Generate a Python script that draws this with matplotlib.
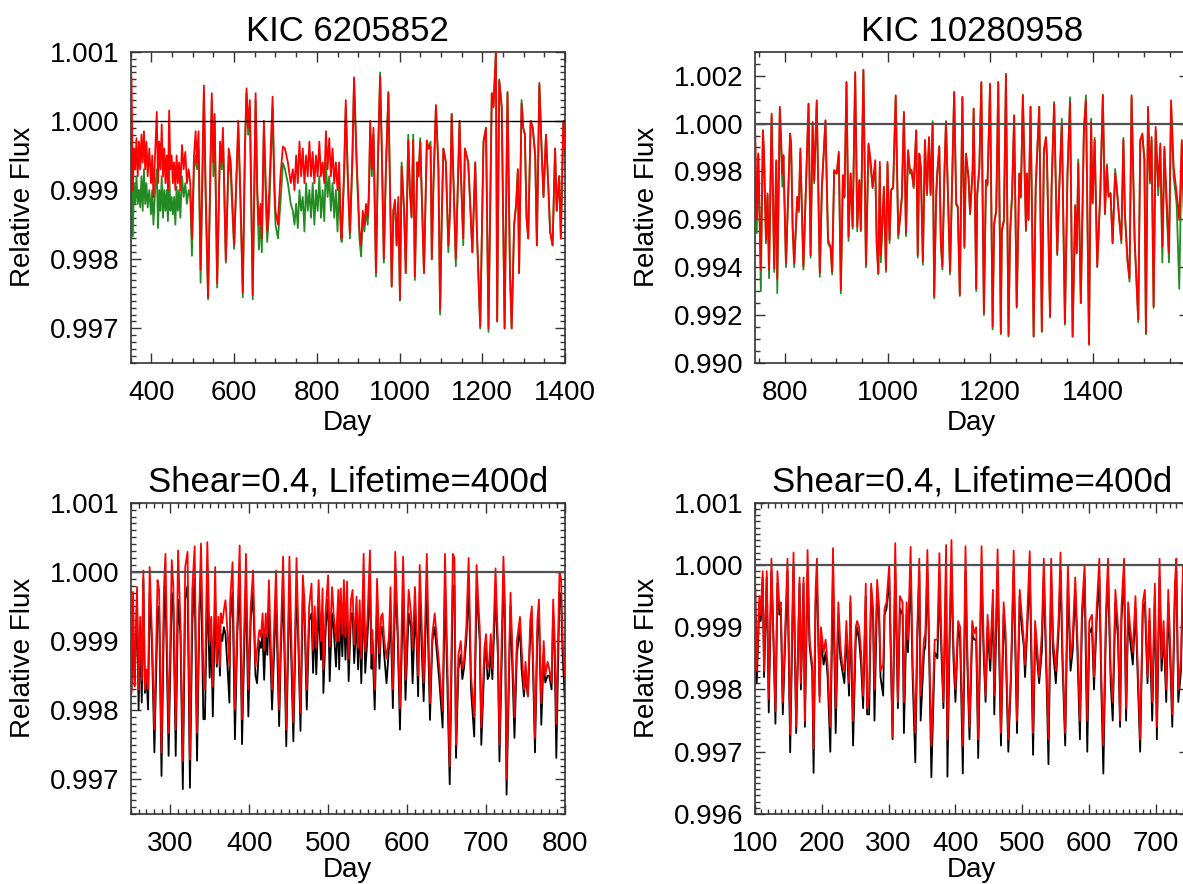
import matplotlib
matplotlib.use("Agg")
import matplotlib.pyplot as plt
from matplotlib.ticker import MultipleLocator, FormatStrFormatter

plt.rcParams['font.family'] = ['Liberation Sans', 'DejaVu Sans']

# ---------------- dados ----------------
# KIC 6205852 (observado: vermelho / verde)
dias_a = [350, 352, 355, 358, 361, 364, 367, 370, 373, 376, 379, 382, 385, 388, 391, 395, 399, 402, 405, 409,
          413, 416, 419, 422, 425, 428, 431, 434, 437, 440, 443, 446, 449, 452, 455, 458, 461, 464, 467, 470,
          474, 478, 482, 486, 490, 494, 498, 503, 507, 510, 514, 519, 527, 531, 537, 546, 550, 553, 559, 566,
          570, 573, 580, 587, 592, 600, 610, 615, 621, 626, 630, 634, 638, 645, 652, 656, 660, 664, 667, 672,
          677, 680, 685, 693, 697, 700, 706, 712, 718, 723, 730, 737, 742, 746, 750, 754, 758, 762, 766, 770,
          774, 778, 782, 786, 790, 794, 798, 802, 806, 810, 814, 818, 822, 826, 830, 834, 838, 842, 846, 850,
          854, 858, 860, 866, 870, 875, 880, 886, 890, 896, 903, 907, 911, 915, 919, 923, 926, 929, 933, 937,
          943, 948, 953, 957, 962, 967, 973, 977, 981, 985, 989, 993, 997, 1001, 1005, 1011, 1015, 1021, 1025, 1029,
          1033, 1037, 1043, 1046, 1050, 1059, 1066, 1070, 1075, 1078, 1082, 1088, 1094, 1098, 1102, 1106, 1112, 1118, 1122, 1126,
          1130, 1136, 1145, 1148, 1154, 1158, 1166, 1170, 1176, 1183, 1187, 1195, 1203, 1209, 1215, 1223, 1227, 1233, 1236, 1241,
          1247, 1254, 1261, 1267, 1271, 1277, 1282, 1286, 1289, 1295, 1299, 1303, 1307, 1311, 1317, 1322, 1328, 1332, 1338, 1344,
          1348, 1354, 1360, 1364, 1370, 1376, 1380, 1386, 1390, 1396, 1400]
vermelho_a = [1.0008, 1.0006, 0.9990, 0.9996, 0.9993, 0.99975, 0.9992, 0.9997, 0.9993, 0.9998, 0.9994, 0.99985, 0.9993, 0.9997, 0.9992, 0.9996, 0.9991, 0.9995, 0.9989, 0.9995,
              1.00013, 0.9991, 0.9997, 0.9993, 0.99995, 0.9992, 0.9996, 0.9991, 0.9995, 0.9990, 1.00015, 0.9993, 0.9995, 0.9991, 0.9994, 0.9990, 0.9995, 0.9991, 0.9994, 0.9990,
              0.99965, 0.9993, 0.99955, 0.9991, 0.9993, 0.9991, 0.9983, 0.9995, 0.99985, 0.9994, 0.99985, 0.99785, 1.00051, 0.9991, 0.99745, 1.0004, 0.9994, 1.0001, 0.99765, 0.9997,
              0.9994, 0.9999, 0.99798, 0.9996, 0.9994, 0.9982, 1.0000, 0.9990, 0.99752, 0.9996, 1.00047, 0.9999, 1.0003, 0.99748, 1.0004, 0.9990, 0.9985, 0.9988, 0.9983, 1.0000,
              0.9990, 0.9984, 0.9990, 1.00035, 0.9992, 0.9987, 0.9985, 0.9992, 0.99963, 0.9996, 0.9994, 0.9991, 0.9993, 0.9990, 0.9995, 0.9991, 0.9997, 0.9992, 0.9996, 0.9991,
              0.9995, 0.9992, 0.9997, 0.9992, 0.99955, 0.9991, 0.9995, 0.9992, 0.9997, 0.9992, 0.9994, 0.9991, 0.99985, 0.9993, 0.99975, 0.9992, 0.9996, 0.9991, 0.9994, 0.9990,
              0.9994, 0.9985, 0.9983, 0.9993, 1.0003, 0.9992, 0.99838, 0.9995, 1.00063, 0.99948, 0.99843, 0.9982, 0.9987, 0.9985, 0.9988, 0.9986, 0.9990, 1.0000, 0.9993, 0.9999,
              0.9978, 0.9995, 1.00065, 0.9996, 0.9980, 0.9993, 1.0004, 0.9990, 0.99761, 0.9987, 0.99886, 0.9982, 0.9989, 0.99742, 0.99934, 0.99871, 0.9978, 0.99972, 0.9990, 0.99862,
              0.99972, 0.99775, 0.9994, 0.9992, 0.9997, 0.9978, 0.99972, 0.9996, 0.99963, 0.9980, 0.9991, 1.00023, 0.9993, 0.99727, 0.9986, 0.9996, 0.9994, 0.9982, 0.9987, 1.0001,
              0.9992, 0.9980, 1.0000, 0.9993, 0.9983, 0.9996, 0.9994, 0.9989, 0.9981, 0.9994, 0.9984, 0.99703, 0.9997, 0.9999, 0.9970, 1.0004, 1.0002, 1.0010, 0.9971, 1.00058,
              1.0002, 0.9970, 1.0004, 0.9978, 0.9970, 0.9985, 0.9988, 0.9993, 0.9978, 1.00025, 0.9999, 0.9998, 0.9986, 0.9983, 1.0000, 0.9999, 0.9995, 0.9982, 1.00053, 0.9995,
              0.9989, 0.9998, 0.9990, 0.9984, 0.9982, 0.9996, 0.9987, 0.9992, 0.9983, 1.0000, 0.9996]
verde_a = [1.0002, 0.9998, 0.99833, 0.9991, 0.9988, 0.9992, 0.9988, 0.9990, 0.99875, 0.9992, 0.9987, 0.9993, 0.9988, 0.9991, 0.99875, 0.9990, 0.99865, 0.9990, 0.9985, 0.9990,
           0.9993, 0.99845, 0.9990, 0.9987, 0.9992, 0.9986, 0.9990, 0.9987, 0.9990, 0.99855, 0.9993, 0.9987, 0.9989, 0.99865, 0.9989, 0.9985, 0.99905, 0.9987, 0.9990, 0.9986,
           0.9992, 0.9989, 0.9991, 0.9988, 0.9990, 0.9989, 0.99805, 0.9993, 0.9995, 0.9993, 0.9996, 0.99766, 1.0004, 0.9989, 0.99742, 1.0003, 0.9992, 1.0000, 0.99759, 0.9996,
           0.9993, 0.9998, 0.99795, 0.9995, 0.9992, 0.99815, 0.9999, 0.9989, 0.99745, 0.9995, 1.0004, 0.9998, 1.0002, 0.99742, 1.0003, 0.9989, 0.99814, 0.9986, 0.9981, 0.9999,
           0.9988, 0.99825, 0.9987, 1.0002, 0.9990, 0.9985, 0.9983, 0.9988, 0.99939, 0.9993, 0.9991, 0.9988, 0.9987, 0.9985, 0.9988, 0.99845, 0.9990, 0.9987, 0.9989, 0.9984,
           0.9991, 0.9987, 0.9990, 0.9986, 0.9991, 0.9985, 0.9990, 0.9987, 0.9992, 0.9986, 0.9990, 0.99855, 0.9994, 0.9989, 0.9992, 0.9987, 0.9991, 0.9986, 0.9990, 0.9984,
           0.9991, 0.99835, 0.99825, 0.9992, 1.0002, 0.9991, 0.9983, 0.9994, 1.0006, 0.9994, 0.9983, 0.99804, 0.9986, 0.9984, 0.9987, 0.9985, 0.9989, 0.9999, 0.9992, 0.9998,
           0.99775, 0.9995, 1.0007, 0.9996, 0.99795, 0.9993, 1.00042, 0.9990, 0.9976, 0.9987, 0.9988, 0.9982, 0.9988, 0.9974, 0.9994, 0.9987, 0.9978, 0.9998, 0.9990, 0.9986,
           0.9998, 0.9977, 0.9994, 0.9992, 0.99975, 0.9978, 0.9997, 0.9996, 0.9997, 0.9980, 0.9991, 1.0002, 0.9993, 0.9972, 0.9986, 0.9996, 0.9994, 0.9981, 0.9987, 1.0001,
           0.9992, 0.9979, 1.0000, 0.9993, 0.9982, 0.9996, 0.9994, 0.9989, 0.9981, 0.9994, 0.9984, 0.9970, 0.9997, 0.9999, 0.99695, 1.0004, 1.0002, 1.0010, 0.9971, 1.0006,
           1.0002, 0.9970, 1.00042, 0.9978, 0.9970, 0.9985, 0.9988, 0.9993, 0.9978, 1.0003, 0.9999, 0.9998, 0.9986, 0.9983, 1.0000, 0.9999, 0.9995, 0.9982, 1.00055, 0.9995,
           0.9989, 0.9998, 0.9990, 0.9984, 0.9982, 0.9996, 0.9987, 0.9992, 0.9983, 1.0000, 0.9995]

# KIC 10280958 (observado: vermelho / verde)
dias_b = [741, 745, 748, 753, 757, 759, 763, 766, 769, 774, 779, 783, 785, 790, 795, 797, 802, 810, 812, 815,
          818, 824, 827, 830, 836, 841, 846, 850, 854, 857, 862, 868, 872, 879, 884, 889, 892, 896, 901, 905,
          909, 913, 916, 920, 924, 928, 932, 937, 941, 945, 948, 953, 958, 963, 967, 971, 976, 979, 982, 985,
          987, 993, 997, 1000, 1004, 1007, 1011, 1016, 1021, 1024, 1028, 1032, 1036, 1040, 1044, 1047, 1051, 1056, 1059, 1062,
          1065, 1069, 1073, 1077, 1081, 1084, 1088, 1091, 1095, 1097, 1101, 1104, 1107, 1111, 1114, 1117, 1122, 1127, 1130, 1134,
          1137, 1141, 1146, 1150, 1153, 1158, 1161, 1166, 1168, 1173, 1175, 1179, 1183, 1188, 1192, 1195, 1200, 1205, 1208, 1212,
          1216, 1221, 1223, 1227, 1231, 1236, 1239, 1243, 1247, 1252, 1257, 1260, 1264, 1270, 1272, 1275, 1279, 1285, 1289, 1292,
          1296, 1301, 1305, 1309, 1311, 1317, 1320, 1325, 1331, 1335, 1340, 1346, 1351, 1356, 1361, 1366, 1369, 1372, 1377, 1383,
          1387, 1393, 1397, 1400, 1404, 1409, 1415, 1420, 1424, 1428, 1431, 1435, 1439, 1444, 1448, 1452, 1456, 1460, 1463, 1468,
          1472, 1476, 1482, 1485, 1489, 1493, 1497, 1501, 1504, 1508, 1512, 1515, 1519, 1523, 1528, 1532, 1536, 1540, 1545, 1549,
          1553, 1558, 1564, 1569, 1574, 1580, 1586, 1590]
vermelho_b = [1.0009, 0.9960, 0.99875, 0.9939, 0.99972, 0.99889, 0.99514, 0.99708, 0.9939, 1.00042, 0.99396, 0.99847, 0.9935, 1.0007, 0.9979, 0.99868, 0.99417, 0.99958, 0.99917, 0.9957,
              0.99417, 0.99694, 0.99639, 0.99896, 0.99403, 0.99736, 1.00083, 0.99451, 1.00007, 0.99764, 1.00097, 0.99375, 0.99736, 1.00014, 0.99514, 0.99486, 0.99382, 0.99806, 0.99792, 0.99882,
              0.99306, 0.99785, 0.99694, 1.00174, 0.99528, 0.99792, 0.9957, 1.00215, 0.9957, 0.99764, 0.99556, 1.00225, 0.9941, 0.99917, 0.99847, 0.99736, 0.99847, 0.9950, 0.99375, 0.9984,
              0.9945, 0.99736, 0.99389, 0.9984, 0.99514, 0.99722, 0.99736, 1.00118, 0.99535, 0.99597, 0.99694, 1.00049, 0.99542, 0.99889, 0.99799, 0.99806, 0.99736, 0.99972, 0.99451, 0.99875,
              0.99819, 0.99424, 0.99931, 0.99708, 0.99944, 0.99708, 1.0000, 0.99278, 0.99708, 0.99792, 0.99906, 0.99514, 0.99403, 0.99792, 1.00007, 0.99778, 0.99382, 0.99847, 1.00132, 0.99667,
              0.99653, 0.99285, 1.00111, 0.99486, 0.99875, 0.99778, 0.99625, 0.99806, 1.00063, 0.99312, 0.99708, 0.99813, 1.00174, 0.99208, 0.99764, 0.9975, 1.00167, 0.99153, 0.99583, 0.99639,
              1.00174, 0.99125, 0.99556, 0.99597, 1.00208, 0.99118, 0.99542, 0.99708, 1.00035, 0.99236, 0.99792, 0.99694, 1.00118, 0.99556, 0.99792, 0.99597, 1.0007, 0.99111, 0.99736, 0.99889,
              1.0007, 0.99132, 0.99889, 0.99944, 0.99861, 0.99194, 0.99736, 1.00083, 0.99458, 0.99736, 1.0000, 0.99167, 0.99792, 1.0009, 0.99111, 0.99653, 0.99458, 0.99833, 0.9925, 0.99972,
              1.00097, 0.99076, 1.00007, 0.99667, 0.99931, 0.99403, 0.99708, 1.00118, 0.99625, 0.99819, 0.99694, 0.99708, 0.9950, 0.99792, 0.99708, 0.99597, 0.99514, 0.99931, 0.99625, 0.9943,
              0.99354, 1.00118, 0.99514, 0.99375, 0.99181, 0.99931, 0.99958, 0.99847, 0.99125, 1.0007, 0.99764, 0.99944, 0.99236, 0.99986, 0.99736, 0.99917, 0.99486, 0.99903, 0.99653, 0.99458,
              1.00097, 0.99819, 0.99708, 0.99597, 0.99931, 0.9950, 0.9990, 0.9970]
verde_b = [0.99986, 0.99542, 0.9987, 0.9930, 0.9996, 0.9988, 0.9950, 0.9970, 0.99354, 1.0003, 0.9938, 0.9984, 0.99292, 1.0006, 0.99736, 0.9986, 0.9940, 0.9995, 0.9991, 0.9956,
           0.9940, 0.9969, 0.9963, 0.9988, 0.9939, 0.9973, 1.0008, 0.9944, 1.0000, 0.9975, 1.0009, 0.9936, 0.9973, 1.0001, 0.9950, 0.9948, 0.9937, 0.9980, 0.9979, 0.9987,
           0.9929, 0.9978, 0.9969, 1.0017, 0.9951, 0.9979, 0.9956, 1.0021, 0.9955, 0.9976, 0.9955, 1.0022, 0.9940, 0.9991, 0.9982, 0.9973, 0.9983, 0.9949, 0.9937, 0.9982,
           0.9942, 0.9973, 0.9938, 0.9983, 0.9950, 0.9972, 0.9973, 1.0011, 0.9952, 0.9959, 0.9969, 1.0004, 0.9953, 0.9988, 0.9979, 0.9980, 0.9973, 0.9997, 0.9944, 0.9987,
           0.9981, 0.9941, 0.9993, 0.9970, 0.9994, 0.9970, 1.0001, 0.9927, 0.9970, 0.9979, 0.9990, 0.9950, 0.9939, 0.9979, 1.0001, 0.9977, 0.9937, 0.9984, 1.0013, 0.9966,
           0.9965, 0.9928, 1.0011, 0.9948, 0.9987, 0.9977, 0.9962, 0.9980, 1.0006, 0.9930, 0.9970, 0.9981, 1.0017, 0.9920, 0.9976, 0.9974, 1.0016, 0.9914, 0.9958, 0.9963,
           1.0017, 0.9912, 0.9955, 0.9959, 1.0020, 0.9911, 0.9954, 0.9970, 1.0003, 0.9923, 0.9979, 0.9969, 1.0012, 0.9955, 0.9978, 0.9960, 1.0007, 0.9911, 0.9973, 0.9988,
           1.0007, 0.9913, 0.9988, 0.9994, 0.9986, 0.9919, 0.9973, 1.0009, 0.9945, 0.9973, 1.0002, 0.9916, 0.9979, 1.0011, 0.9911, 0.9966, 0.9946, 0.9985, 0.9925, 0.9997,
           1.00118, 0.9908, 1.0002, 0.9967, 0.9994, 0.9940, 0.9971, 1.0012, 0.9962, 0.9983, 0.9970, 0.9971, 0.9950, 0.9981, 0.9971, 0.9960, 0.9950, 0.9994, 0.9962, 0.9943,
           0.9934, 1.0011, 0.9951, 0.9937, 0.9917, 0.9993, 0.9995, 0.9985, 0.9912, 1.0006, 0.9975, 0.9993, 0.9923, 0.9997, 0.9970, 0.9990, 0.9942, 0.9989, 0.9961, 0.9942,
           1.0008, 0.9978, 0.9966, 0.9931, 0.9992, 0.9945, 0.9988, 0.9965]

# Modelo Shear=0.4, Lifetime=400d (esquerda: vermelho / preto)
dias_c = [251, 253, 255, 258, 260, 262, 264, 266, 268, 270, 272, 274, 277, 280, 284, 286, 289, 292, 294, 298,
          302, 304, 307, 310, 313, 316, 319, 322, 325, 328, 331, 334, 337, 339, 342, 344, 347, 350, 352, 354,
          357, 359, 361, 363, 364, 366, 368, 370, 373, 375, 376, 379, 382, 385, 388, 391, 394, 396, 399, 402,
          405, 408, 410, 413, 415, 417, 419, 421, 423, 425, 429, 434, 438, 440, 443, 447, 451, 456, 460, 462,
          465, 468, 470, 473, 476, 479, 481, 483, 485, 488, 491, 493, 494, 497, 500, 502, 505, 507, 510, 513,
          514, 516, 518, 520, 522, 524, 526, 529, 531, 533, 536, 538, 540, 542, 545, 547, 550, 553, 555, 556,
          559, 562, 565, 567, 569, 571, 574, 577, 579, 582, 585, 588, 591, 595, 598, 602, 605, 607, 610, 612,
          614, 616, 621, 625, 629, 632, 635, 638, 641, 645, 648, 654, 658, 660, 662, 665, 668, 670, 672, 675,
          678, 681, 685, 688, 690, 692, 694, 698, 700, 702, 704, 706, 708, 712, 715, 717, 722, 724, 726, 731,
          736, 739, 743, 745, 748, 750, 753, 756, 758, 762, 765, 767, 770, 773, 775, 778, 780, 783, 785, 787,
          789, 793, 795, 797, 800]
vermelho_c = [0.99825, 0.99971, 0.99835, 0.99978, 0.9983, 0.99935, 0.99844, 1.00002, 0.9983, 0.99859, 0.9983, 1.00007, 0.99906, 0.99772, 0.99988, 0.99974, 0.99739, 0.99974, 1.00026, 0.99767,
              1.00017, 0.99978, 0.99772, 1.00031, 0.99926, 0.99727, 1.00007, 1.00029, 0.99729, 0.99974, 1.00037, 0.99767, 0.9995, 1.00041, 0.99854, 0.9983, 1.00043, 0.99899, 0.99935, 0.99835,
              1.00007, 0.99868, 0.99935, 0.99863, 0.9994, 0.99926, 0.99945, 0.99959, 0.99906, 0.99863, 0.99959, 1.00014, 0.99801, 0.99926, 1.00038, 0.99787, 0.9993, 1.00026, 0.9983, 0.9995,
              1.00002, 0.99863, 0.99887, 0.99916, 0.99906, 0.9994, 0.99887, 0.9994, 0.99906, 0.99988, 0.9983, 1.00002, 0.99801, 0.99902, 1.00022, 0.99772, 1.00022, 0.99782, 1.0002, 0.99926,
              0.99796, 0.99995, 0.99959, 0.9983, 0.9995, 0.99983, 0.99887, 0.9995, 0.9989, 0.99988, 0.999, 0.99976, 0.99859, 0.99945, 0.99995, 0.99892, 0.99978, 0.9994, 0.999, 0.99974,
              0.999, 0.99976, 0.9991, 0.99988, 0.99905, 0.99986, 0.99875, 0.9996, 0.99974, 0.99895, 0.99964, 0.9989, 0.99959, 0.99875, 1.00026, 0.99885, 0.99935, 1.00031, 0.99882, 0.99916,
              0.9983, 0.9999, 0.99882, 0.99935, 0.9994, 0.99902, 0.99875, 0.99906, 0.99978, 0.9983, 1.00029, 0.99926, 0.99803, 1.00022, 0.99844, 0.99974, 0.9994, 0.9989, 0.99978, 0.99916,
              0.9985, 1.0001, 0.9984, 1.00026, 0.9981, 0.9991, 0.9994, 0.9990, 0.9986, 0.9980, 1.00026, 0.99719, 1.00026, 1.0002, 0.9975, 0.9988, 0.9990, 0.9986, 0.9987, 0.9992,
              1.0002, 0.9985, 0.9979, 1.0001, 0.9996, 0.9992, 0.99775, 0.9989, 0.9991, 0.9986, 0.9987, 0.9991, 0.9986, 1.00005, 0.9990, 0.9975, 1.00022, 0.9995, 0.9970, 0.9997,
              0.9979, 0.9990, 0.99935, 0.9989, 0.9983, 0.9987, 0.9982, 0.9993, 0.9995, 0.9976, 0.9993, 0.9996, 0.9981, 0.9990, 0.9985, 0.9987, 0.9986, 0.9984, 0.9996, 0.9990,
              0.9978, 1.0000, 0.9999, 0.9990, 0.9985]
preto_c = [0.9983, 0.99926, 0.99835, 0.9996, 0.99801, 0.9992, 0.99811, 0.9999, 0.99825, 0.9985, 0.99801, 0.9997, 0.9989, 0.99739, 0.9994, 0.9995, 0.99705, 0.9993, 0.9998, 0.99734,
           0.9997, 0.9995, 0.99734, 0.9996, 0.9991, 0.99686, 0.9996, 0.9998, 0.99688, 0.99926, 0.9999, 0.99727, 0.9994, 1.0000, 0.99787, 0.99787, 0.9998, 0.99847, 0.9991, 0.99791,
           0.9996, 0.99863, 0.9992, 0.9985, 0.9991, 0.9990, 0.9992, 0.9991, 0.99854, 0.99811, 0.9993, 0.9997, 0.99758, 0.9991, 0.9999, 0.99751, 0.9990, 0.9998, 0.99791, 0.9993,
           0.9997, 0.9985, 0.99839, 0.9990, 0.9989, 0.9991, 0.99844, 0.9991, 0.9988, 0.9995, 0.99801, 0.9996, 0.99777, 0.9988, 0.9998, 0.99748, 0.9998, 0.99755, 0.9998, 0.9991,
           0.9977, 0.9996, 0.9994, 0.99801, 0.9993, 0.9994, 0.99854, 0.9993, 0.99852, 0.9995, 0.99873, 0.9994, 0.99825, 0.9992, 0.9996, 0.99842, 0.9994, 0.9992, 0.99863, 0.9994,
           0.99859, 0.9994, 0.99878, 0.9995, 0.99873, 0.9995, 0.99842, 0.9994, 0.9994, 0.99868, 0.9993, 0.99859, 0.9993, 0.99839, 0.9997, 0.99854, 0.9991, 0.9998, 0.9986, 0.9990,
           0.99801, 0.9995, 0.9986, 0.9992, 0.9992, 0.9988, 0.99839, 0.9989, 0.9994, 0.99803, 0.9998, 0.9991, 0.99772, 0.9998, 0.99815, 0.9994, 0.9992, 0.99839, 0.9994, 0.9990,
           0.9982, 0.9997, 0.99813, 0.9998, 0.99786, 0.9990, 0.9992, 0.9988, 0.9984, 0.99775, 0.9998, 0.99693, 0.9998, 0.9998, 0.99731, 0.9986, 0.9988, 0.99845, 0.9986, 0.9990,
           0.9998, 0.9983, 0.99762, 0.9997, 0.9994, 0.9990, 0.9975, 0.9987, 0.9989, 0.99845, 0.9985, 0.9989, 0.99845, 0.9997, 0.9988, 0.99726, 0.9998, 0.9993, 0.99678, 0.9995,
           0.9976, 0.9988, 0.9992, 0.9986, 0.9982, 0.9985, 0.9982, 0.9991, 0.9993, 0.99739, 0.9991, 0.9994, 0.99779, 0.9988, 0.9984, 0.9985, 0.9985, 0.9983, 0.9994, 0.9988,
           0.99731, 0.9997, 0.9996, 0.9988, 0.9981]

# Modelo Shear=0.4, Lifetime=400d (direita: vermelho / preto)
dias_d = [100, 103, 107, 109, 112, 114, 118, 121, 125, 128, 131, 134, 137, 139, 142, 146, 149, 153, 158, 162,
          167, 169, 173, 175, 179, 182, 186, 188, 191, 193, 197, 199, 203, 206, 209, 213, 217, 221, 225, 228,
          231, 234, 237, 241, 243, 247, 251, 253, 256, 259, 262, 266, 268, 271, 274, 277, 279, 283, 286, 288,
          292, 294, 297, 301, 306, 310, 314, 317, 321, 323, 327, 329, 333, 336, 340, 343, 346, 348, 353, 355,
          358, 361, 364, 369, 373, 376, 379, 382, 386, 388, 391, 394, 397, 400, 404, 407, 411, 415, 418, 421,
          425, 428, 431, 434, 439, 442, 445, 448, 452, 456, 458, 463, 466, 468, 472, 475, 479, 483, 487, 492,
          496, 499, 502, 504, 507, 511, 516, 519, 522, 525, 529, 532, 536, 539, 543, 546, 550, 554, 557, 560,
          564, 568, 572, 575, 579, 582, 586, 589, 593, 597, 600, 604, 607, 611, 615, 618, 621, 625, 628, 632,
          635, 639, 643, 646, 648, 652, 655, 658, 661, 665, 669, 672, 676, 680, 683, 687, 690, 694, 698, 701,
          705, 708, 711, 715, 718, 720, 724, 728, 730, 733, 737, 740, 745, 750]
vermelho_d = [1.0001, 0.9983, 0.9995, 0.9992, 0.9999, 0.9983, 0.9999, 0.99785, 1.0001, 0.9989, 0.99765, 0.9999, 0.9993, 0.9994, 0.9978, 0.9991, 1.0001, 0.99728, 1.0002, 0.9974,
              0.9998, 0.9981, 0.9998, 0.9975, 1.00024, 0.9988, 0.9984, 0.99705, 0.9996, 1.0001, 0.9978, 0.9990, 0.9986, 0.9988, 0.9984, 0.9974, 1.00027, 0.9977, 0.9994, 0.9987,
              0.9984, 0.9983, 0.9991, 0.9981, 0.9995, 0.9975, 0.9990, 0.9991, 0.9990, 0.9986, 0.9979, 0.9997, 0.9977, 0.9979, 0.9997, 0.9993, 0.9980, 0.99976, 0.9993, 0.9983,
              0.9984, 0.9993, 0.9994, 1.0000, 0.99725, 1.00035, 0.9978, 0.9995, 0.9994, 0.9978, 0.9994, 0.9988, 1.00029, 0.9984, 0.9973, 0.9990, 1.0001, 0.9979, 0.9988, 0.9989,
              1.00024, 0.9986, 0.99709, 0.9988, 0.9988, 1.00019, 0.9988, 0.9978, 1.00032, 0.9972, 0.9988, 1.0004, 0.9987, 0.9980, 0.9991, 0.9990, 0.9971, 1.0003, 0.9985, 0.9974,
              0.9991, 0.9989, 0.9990, 0.9972, 1.0003, 0.9988, 0.9979, 0.9992, 0.9985, 0.9996, 0.9979, 1.00025, 0.9985, 0.9973, 0.9994, 0.9989, 0.9972, 0.9983, 1.00023, 0.9975,
              0.9996, 0.9992, 0.9988, 0.9984, 0.9991, 1.00022, 0.9973, 0.9991, 0.9987, 0.9982, 0.9989, 1.0001, 0.9984, 0.9972, 1.0001, 0.9988, 0.9983, 0.9991, 1.0002, 0.9986,
              0.9973, 1.0000, 0.9985, 0.9988, 0.9998, 0.9989, 0.9975, 0.9993, 1.0000, 0.9975, 0.9991, 0.9992, 0.9982, 0.9993, 1.0001, 0.9982, 0.9971, 0.9993, 1.0001, 0.9983,
              0.9978, 0.9996, 0.9990, 0.9975, 0.9993, 1.0001, 0.9977, 0.9994, 0.9990, 0.9986, 0.9995, 0.9985, 0.9972, 0.9994, 0.9996, 0.9982, 0.9993, 0.9978, 0.9997, 0.9974,
              1.0001, 0.9985, 0.9991, 0.9980, 0.9996, 0.9990, 0.9976, 0.9997, 1.0001, 0.9980, 0.9985, 1.0000, 0.9980, 0.9993]
preto_d = [1.0001, 0.9981, 0.9994, 0.9991, 0.9998, 0.9982, 0.9998, 0.99763, 0.9999, 0.9988, 0.99745, 0.9997, 0.9992, 0.9993, 0.9976, 0.9989, 0.9999, 0.99699, 1.0000, 0.9973,
           0.9997, 0.9980, 0.9997, 0.9974, 0.9999, 0.9987, 0.9983, 0.99666, 0.9994, 0.9998, 0.9979, 0.9988, 0.9984, 0.9986, 0.9982, 0.9970, 0.9999, 0.9973, 0.9992, 0.9985,
           0.9983, 0.9981, 0.9989, 0.9979, 0.9994, 0.9971, 0.9988, 0.9990, 0.9988, 0.9984, 0.9977, 0.9995, 0.9976, 0.9976, 0.9996, 0.9991, 0.9975, 0.9996, 0.9991, 0.9982,
           0.9979, 0.9992, 0.9993, 0.9998, 0.9972, 0.9999, 0.9977, 0.9993, 0.9992, 0.9973, 0.9992, 0.9986, 0.9999, 0.9982, 0.99683, 0.9988, 0.9999, 0.9975, 0.9986, 0.9987,
           0.9999, 0.9984, 0.99659, 0.9986, 0.9985, 0.9997, 0.9986, 0.9977, 0.9999, 0.9966, 0.9986, 1.0000, 0.9985, 0.9978, 0.9990, 0.9988, 0.99665, 0.9999, 0.9983, 0.9972,
           0.9989, 0.9988, 0.9988, 0.9969, 0.9999, 0.9986, 0.9978, 0.9990, 0.9983, 0.9994, 0.9976, 0.9999, 0.9982, 0.9971, 0.9992, 0.9987, 0.9970, 0.9982, 0.9999, 0.9973,
           0.9995, 0.9990, 0.9987, 0.9982, 0.9989, 0.9999, 0.99695, 0.9989, 0.9985, 0.9981, 0.9986, 0.9998, 0.9982, 0.9968, 0.9998, 0.9986, 0.9981, 0.9989, 0.9999, 0.9984,
           0.9971, 0.9997, 0.9983, 0.9986, 0.9996, 0.9987, 0.9972, 0.9991, 0.9998, 0.9970, 0.9989, 0.9990, 0.9980, 0.9991, 0.9998, 0.9980, 0.99665, 0.9991, 0.9998, 0.9981,
           0.9975, 0.9994, 0.9988, 0.9974, 0.9991, 0.9999, 0.9975, 0.9992, 0.9988, 0.9984, 0.9993, 0.9983, 0.9970, 0.9993, 0.9994, 0.9981, 0.9991, 0.9975, 0.9995, 0.9972,
           0.9998, 0.9983, 0.9989, 0.9978, 0.9994, 0.9988, 0.9974, 0.9996, 0.9999, 0.9978, 0.9983, 0.9998, 0.9978, 0.9991]

titulos = ["KIC 6205852", "KIC 10280958", "Shear=0.4, Lifetime=400d", "Shear=0.4, Lifetime=400d"]

# ---------------- figura ----------------
W, H = 1183, 884
fig = plt.figure(figsize=(W / 100, H / 100), dpi=100)

def eixo(x0, y_topo, y_base):
    # posição em pixels -> fração da figura
    return fig.add_axes([x0 / W, (H - y_base) / H, 434.3 / W, (y_base - y_topo) / H])

ax_a = eixo(130.7, 51.7, 363)
ax_b = eixo(754.7, 51.7, 363)
ax_c = eixo(130.7, 502.7, 814)
ax_d = eixo(754.7, 502.7, 814)

paineis = [
    (ax_a, dias_a, verde_a, vermelho_a, 'forestgreen', (350, 1400), (0.9965, 1.0010), 200, 50, 0.001, 0.0001, 'black', 1.0, 3),
    (ax_b, dias_b, verde_b, vermelho_b, 'forestgreen', (741, 1588), (0.9900, 1.0030), 200, 50, 0.002, 0.0005, '#505050', 1.6, 3),
    (ax_c, dias_c, preto_c, vermelho_c, 'black', (250, 800), (0.9965, 1.0010), 100, 10, 0.001, 0.0001, '#505050', 1.6, 0),
    (ax_d, dias_d, preto_d, vermelho_d, 'black', (100, 749), (0.9960, 1.0010), 100, 10, 0.001, 0.0001, '#505050', 1.6, 0),
]

for (ax, x, y1, y2, cor1, xl, yl, xmaj, xmin, ymaj, ymin, cor_linha, lw_linha, lp), tit in zip(paineis, titulos):
    ax.plot(x, y1, color=cor1, lw=1.3, zorder=2)
    ax.plot(x, y2, color='red', lw=1.3, zorder=3)
    ax.axhline(1.0, color=cor_linha, lw=lw_linha, zorder=4)
    ax.set_xlim(*xl)
    ax.set_ylim(*yl)
    ax.xaxis.set_major_locator(MultipleLocator(xmaj))
    ax.xaxis.set_minor_locator(MultipleLocator(xmin))
    ax.yaxis.set_major_locator(MultipleLocator(ymaj))
    ax.yaxis.set_minor_locator(MultipleLocator(ymin))
    ax.yaxis.set_major_formatter(FormatStrFormatter('%.3f'))
    ax.tick_params(which='both', direction='in', top=True, right=True, labelsize=20, width=1.0, color='#333333')
    ax.tick_params(which='major', length=7)
    ax.tick_params(which='minor', length=3.5)
    ax.tick_params(axis='x', pad=12)
    ax.tick_params(axis='y', pad=8)
    for s in ax.spines.values():
        s.set_linewidth(1.2)
        s.set_color('#333333')
    ax.set_title(tit, fontsize=25, pad=8)
    ax.set_xlabel("Day", fontsize=20, labelpad=lp)
    ax.set_ylabel("Relative Flux", fontsize=20, labelpad=10)

fig.savefig("out.png", dpi=100)
